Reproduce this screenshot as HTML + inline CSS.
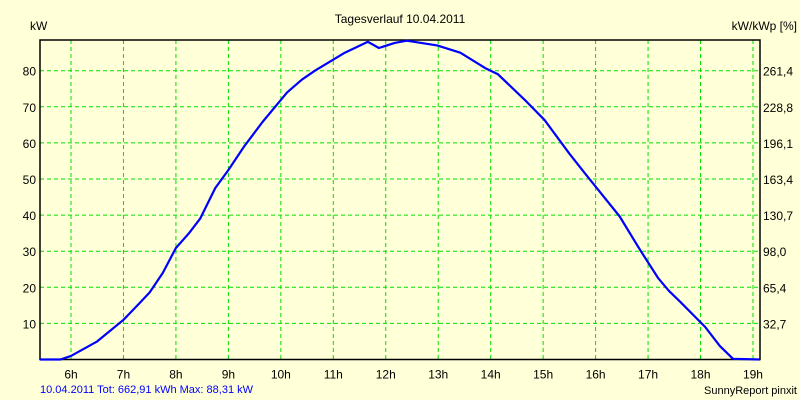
<!DOCTYPE html>
<html><head><meta charset="utf-8"><style>
body{margin:0;background:#ffffd8;}
svg{display:block;font-family:"Liberation Sans",sans-serif;font-size:12px;}
</style></head><body>
<svg id="chart" width="800" height="400" viewBox="0 0 800 400">
<rect width="800" height="400" fill="#ffffd8"/>
<text x="400" y="23" text-anchor="middle" fill="#000">Tagesverlauf 10.04.2011</text>
<text x="30" y="30" fill="#000">kW</text>
<text x="797" y="30" text-anchor="end" fill="#000">kW/kWp [%]</text>
<g id="grid"></g>
<g id="axes"></g>
<path id="line" fill="none" stroke="#0000ff" stroke-width="2.2" stroke-linejoin="round"/>
<text x="40" y="393" fill="#0000ff" font-size="11">10.04.2011 Tot: 662,91 kWh Max: 88,31 kW</text>
<text x="797" y="394" text-anchor="end" fill="#000" font-size="11">SunnyReport pinxit</text>
</svg>
<script>
const hours = [5.41,5.8,6.0,6.5,7.0,7.3,7.5,7.75,8.0,8.25,8.46,8.75,9.0,9.3,9.65,10.12,10.4,10.65,11.22,11.66,11.87,12.17,12.4,12.98,13.42,13.9,14.14,14.65,15.03,15.5,15.8,16.05,16.46,16.85,17.19,17.4,17.61,18.09,18.37,18.62,19.13];
const power = [0,0,1,5,11,15.5,18.6,24,30.9,35,39,47.5,52.5,59,65.8,74,77.5,80,85,88,86.3,87.7,88.3,87,85,80.7,79,71.9,66.3,57,51.5,47,39.6,30.3,22.6,19,16,9,3.7,0.2,0];
const hourTicks = [6,7,8,9,10,11,12,13,14,15,16,17,18,19];
const kwTicks = [10,20,30,40,50,60,70,80];
const pctLabels = ["32,7","65,4","98,0","130,7","163,4","196,1","228,8","261,4"];
const L=40,R=760,T=40,B=359.5;
const x=h=>71+(h-6)*52.46;
const y=v=>B-v*3.61;
const NS="http://www.w3.org/2000/svg";
const grid=document.getElementById('grid'), axes=document.getElementById('axes');
function mk(tag,attrs,parent){const e=document.createElementNS(NS,tag);for(const k in attrs)e.setAttribute(k,attrs[k]);parent.appendChild(e);return e;}
hourTicks.forEach(h=>{
  const l=mk('line',{x1:x(h),x2:x(h),y1:T,y2:B,stroke:'#00e000','stroke-dasharray':'4,3'},grid);
  
  
  const t=mk('text',{x:x(h),y:B+19,'text-anchor':'middle',fill:'#000'},axes);
  t.textContent=h+'h';
  
  
});
kwTicks.forEach((v,i)=>{
  const l=mk('line',{x1:L,x2:R,y1:y(v),y2:y(v),stroke:'#00e000','stroke-dasharray':'4,3'},grid);
  
  
  const t=mk('text',{x:36,y:y(v)+5,'text-anchor':'end',fill:'#000'},axes);
  t.textContent=v;
  
  
  const t2=mk('text',{x:763,y:y(v)+5,fill:'#000'},axes);
  t2.textContent=pctLabels[i];
  
  
});
const frame=mk('path',{d:`M${L},${T}H${R}V${B}H${L}Z`,fill:'none',stroke:'#000','stroke-width':1.5},axes);


document.getElementById('line').setAttribute('d',hours.map((h,i)=>(i?'L':'M')+x(h).toFixed(1)+','+y(power[i]).toFixed(1)).join(''));
</script>
</body></html>
